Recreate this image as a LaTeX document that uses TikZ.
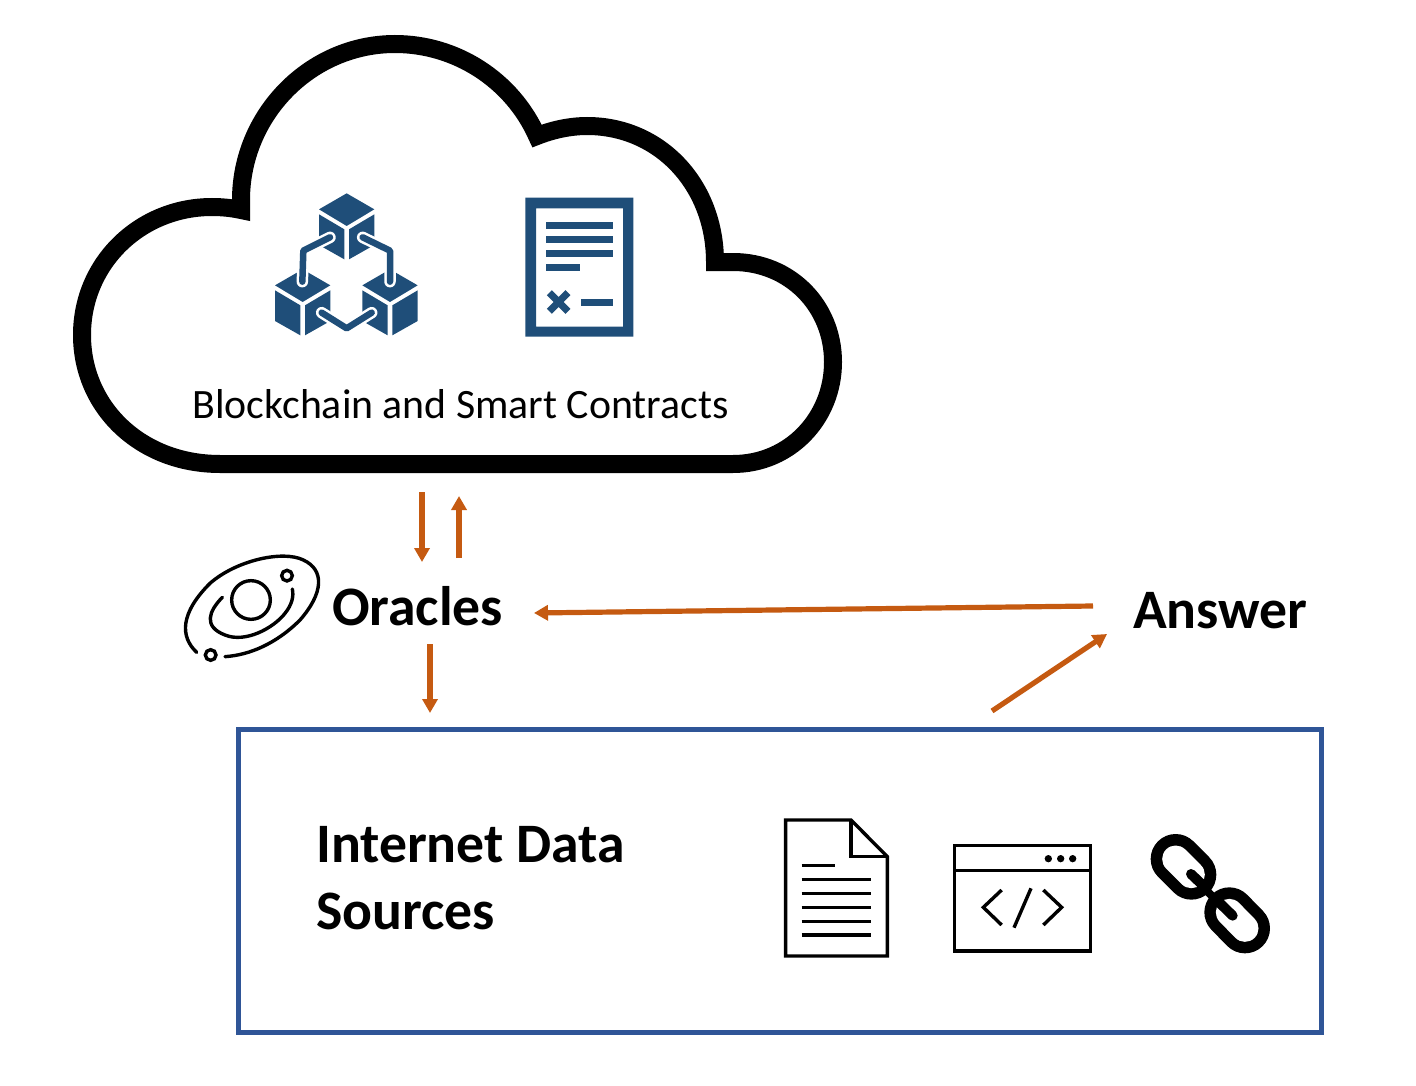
\documentclass[tikz,border=0pt]{standalone}
\usepackage{fontspec}
\setmainfont{Carlito}
\usetikzlibrary{arrows.meta}
\definecolor{orangeline}{HTML}{C55A11}
\definecolor{iconblue}{HTML}{1F4E79}
\definecolor{boxblue}{HTML}{2F5597}
\tikzset{
  flow/.style={draw=orangeline,line width=5.2pt,-{Triangle[length=14pt,width=15pt]},shorten >=0pt},
  label/.style={anchor=base west,inner sep=0pt,font=\fontsize{55.7}{55.7}\selectfont\bfseries},
  cloudtext/.style={anchor=base,inner sep=0pt,font=\fontsize{41.8}{41.8}\selectfont},
  zoomed/.style={x=0.33333pt,y=-0.33333pt},
  iconface/.style={fill=iconblue,draw=none},
  ink/.style={draw=black,line width=3.4pt},
}
\begin{document}
\begin{tikzpicture}[x=1pt,y=-1pt]
\useasboundingbox (0,0) rectangle (1416,1086);
% cloud
\draw[line width=18pt,line join=miter,miter limit=10]
  (537,136) .. controls (512,80) and (456,44) .. (395,44)
  .. controls (310,44) and (241,115) .. (241,200)
  -- (241,210)
  .. controls (232,208) and (222,207) .. (212,207)
  .. controls (140,207) and (82,263) .. (82,335)
  .. controls (82,407) and (140,464) .. (220,464)
  -- (733,464)
  .. controls (790,464) and (833,418) .. (833,362)
  .. controls (833,306) and (790,262) .. (733,262)
  -- (715,262)
  .. controls (715,185) and (660,126) .. (587,126)
  .. controls (570,126) and (552,130) .. cycle;
\node[cloudtext] (cloudlabel) at (460.5,418) {Blockchain and Smart Contracts};
% blockchain icon
\begin{scope}[shift={(260,180)},zoomed]
  \foreach \dx/\dy in {0/0,-132/228,130/228}{
    \begin{scope}[shift={(\dx,\dy)}]
      \fill[iconface] (260,40)--(343,88)--(260,138)--(177,88)--cycle;
      \fill[iconface] (177,103)--(253,148)--(253,238)--(177,195)--cycle;
      \fill[iconface] (267,148)--(343,103)--(343,195)--(267,238)--cycle;
    \end{scope}
  }
  \foreach \w/\c in {11.5pt/white,6.5pt/iconblue}{
    \draw[line width=\w,draw=\c,line cap=round,line join=round]
      (210,172)--(130,212)--(127,305);
    \draw[line width=\w,draw=\c,line cap=round,line join=round]
      (308,172)--(390,212)--(390,305);
    \draw[line width=\w,draw=\c,line cap=round,line join=round]
      (185,398)--(260,445)--(335,398);
  }
  % contract icon
  \fill[iconblue,even odd rule] (796,53) rectangle (1120,470) (828,85) rectangle (1089,440);
  \fill[iconblue] (859,127) rectangle (1058,148);
  \fill[iconblue] (859,169) rectangle (1058,190);
  \fill[iconblue] (859,211) rectangle (1058,231);
  \fill[iconblue] (859,252) rectangle (959,273);
  \fill[iconblue] (964,356) rectangle (1058,377);
  \draw[iconblue,line width=7pt] (868,338)--(924,394) (924,338)--(868,394);
\end{scope}
% oracle icon
\begin{scope}[shift={(170,480)},zoomed]
  \draw[ink,line cap=round]
    (80,517) .. controls (30,470) and (30,400) .. (120,310)
    .. controls (200,240) and (340,210) .. (400,240)
    .. controls (465,270) and (460,340) .. (390,420)
    .. controls (320,490) and (240,525) .. (165,530);
  \draw[ink,line cap=round]
    (157,352) .. controls (115,395) and (100,440) .. (165,465)
    .. controls (225,490) and (310,445) .. (345,400)
    .. controls (365,375) and (372,350) .. (367,327);
  \draw[ink] (243,360) circle[radius=58];
  \draw[ink] (351,287) circle[radius=16];
  \draw[ink] (122,525) circle[radius=16];
\end{scope}
% labels
\node[label] (oracles) at (332,625) {Oracles};
\node[label] (answer) at (1133,628) {Answer};
\node[draw=boxblue,line width=5pt,minimum width=1083pt,minimum height=303pt,inner sep=0pt] (sources) at (779.5,881) {};
\node[label] (internet) at (316,862) {Internet Data};
\node[label] (sourcestext) at (316,929) {Sources};
% arrows
\coordinate (a1s) at (422,492); \coordinate (a1e) at (422,562);
\coordinate (a2s) at (459,558); \coordinate (a2e) at (459,496);
\coordinate (a3s) at (430,644); \coordinate (a3e) at (430,713);
\coordinate (a4s) at (1093,606); \coordinate (a4e) at (534,613);
\coordinate (a5s) at (992,711); \coordinate (a5e) at (1107,634);
\draw[flow] (a1s) -- (a1e);
\draw[flow] (a2s) -- (a2e);
\draw[flow] (a3s) -- (a3e);
\draw[flow] (a4s) -- (a4e);
\draw[flow] (a5s) -- (a5e);
% internet icons
\begin{scope}[shift={(770,800)},zoomed]
  \draw[ink,line join=miter] (47,60)--(243,60)--(352,170)--(352,468)--(47,468)--cycle;
  \draw[ink,line join=miter] (243,60)--(243,170)--(352,170);
  \draw[ink] (95,197)--(195,197);
  \foreach \yy in {239,281,322,364,405}{\draw[ink] (95,\yy)--(303,\yy);}
  \draw[ink] (553,137) rectangle (962,453);
  \draw[ink] (553,211)--(962,211);
  \foreach \xx in {835,872,908}{\fill (\xx,176) circle[radius=11];}
  \draw[ink] (695,270)--(640,322)--(695,375);
  \draw[ink] (820,270)--(875,322)--(820,375);
  \draw[ink] (783,265)--(732,383);
  % chain
  \draw[line width=50pt,line cap=round] (1217,177)--(1264,224);
  \draw[line width=27pt,line cap=round,white] (1217,177)--(1264,224);
  \draw[line width=10pt,line cap=round] (1263,222)--(1305,262);
  \draw[line width=50pt,line cap=round] (1378,337)--(1425,385);
  \draw[line width=27pt,line cap=round,white] (1378,337)--(1425,385);
  \draw[line width=10pt,line cap=round] (1388,347)--(1340,300);
  \draw[line width=8pt] (1295,257)--(1350,312);
\end{scope}
\end{tikzpicture}
\end{document}
